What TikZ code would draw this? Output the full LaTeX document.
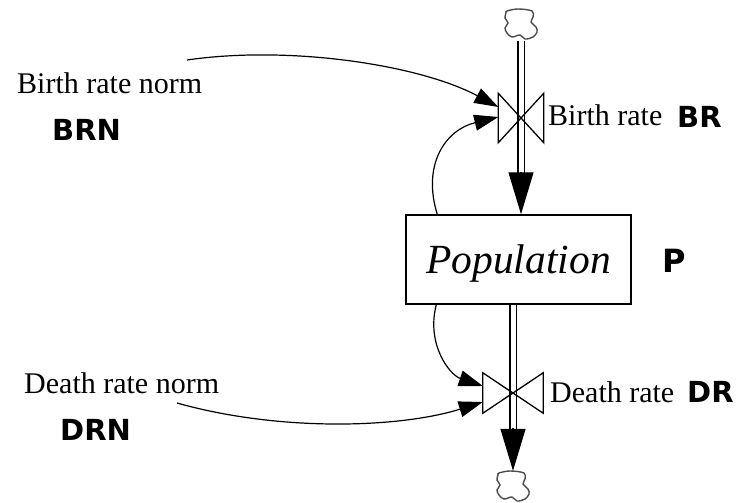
\documentclass[tikz,border=0pt]{standalone}
\usepackage{fontspec}
\setmainfont{Liberation Serif}
\newfontfamily\blk{DejaVu Sans}
\usetikzlibrary{arrows.meta,calc}
\tikzset{
  lbl/.style={inner sep=0pt, font=\fontsize{30}{36}\selectfont},
  code/.style={inner sep=0pt, font=\fontsize{29}{35}\selectfont\blk\bfseries},
  bigcode/.style={inner sep=0pt, font=\fontsize{32}{38}\selectfont\blk\bfseries},
  conn/.style={line width=1.2pt, -{Triangle[length=24pt,width=16pt]}},
  pipe/.style={double distance=5pt, line width=1.2pt},
  bighead/.style={line width=1.2pt, -{Triangle[length=42pt,width=25pt]}},
  valveline/.style={line width=1.3pt, line join=miter},
  source/.style={inner sep=0pt, minimum width=33pt, minimum height=32pt},
  cloudline/.style={draw=black!70, line width=1.4pt},
  stock/.style={draw, line width=1.5pt, minimum width=225pt, minimum height=89pt, inner sep=0pt,
    text depth=0pt, font=\fontsize{41.5}{50}\selectfont\itshape}
}
\newcommand{\cloudoutline}[1]{%
  \draw[cloudline, shift={(#1.center)}] plot[smooth cycle, tension=0.6] coordinates {
    (-14,-14) (-3,-16) (11,-14) (12,-8) (10,-3) (15,2) (16,7) (12,12)
    (4,14) (-1,10) (-9,12) (-14,8) (-16,3) (-13,-2) (-16,-7) (-15,-12)};}
\begin{document}
\begin{tikzpicture}[x=1pt,y=-1pt]
\useasboundingbox (0,0) rectangle (736,503);

% stock
\node[stock] (pop) at (518.5,259.5) {Population};
\node[bigcode, anchor=base west] (pLbl) at (662,272) {P};

% clouds
\node[source] (ct) at (521,25) {};
\node[source] (cb) at (513,487) {};
\cloudoutline{ct}
\cloudoutline{cb}

% valves (invisible boxes)
\node[inner sep=0pt, minimum width=45pt, minimum height=49pt] (vt) at (521,118) {};
\node[inner sep=0pt, minimum width=60pt, minimum height=40pt] (vb) at (513,393) {};

% pipes
\draw[pipe] (ct.south) -- ($(ct.south |- pop.north)+(0,-41)$);
\draw[bighead] ($(ct.south |- pop.north)+(0,-42)$) -- (ct.south |- pop.north);
\draw[pipe] (pop.south -| cb.north) -- ($(cb.north)+(0,-42)$);
\draw[bighead] ($(cb.north)+(0,-43)$) -- (cb.north);

% valve bowties
\draw[valveline] (vt.north west) -- (vt.south east) -- (vt.north east) -- (vt.south west) -- cycle;
\draw[valveline] (vb.north west) -- (vb.south east) -- (vb.north east) -- (vb.south west) -- cycle;

% labels
\node[lbl, anchor=base west] (brnT) at (17,93) {Birth rate norm};
\node[code, anchor=base west] (brnC) at (52,140) {BRN};
\node[lbl, anchor=base west] (drnT) at (24,393) {Death rate norm};
\node[code, anchor=base west] (drnC) at (60,440) {DRN};
\node[lbl, anchor=base west] (brT) at (548,125) {Birth rate};
\node[code, anchor=base west] (brC) at (677,127) {BR};
\node[lbl, anchor=base west] (drT) at (550,402) {Death rate};
\node[code, anchor=base west] (drC) at (687,402) {DR};

% connectors
\coordinate (brnS) at (187,60);
\coordinate (drnS) at (177,403);
\draw[conn] (brnS) .. controls (290,45) and (420,65) .. ([yshift=11pt]vt.west);
\draw[conn] ($(pop.north west)+(32,0)$) .. controls (422,165) and (445,130) .. ([yshift=1pt]vt.west);
\draw[conn] ($(pop.south west)+(31,0)$) .. controls (426,345) and (450,375) .. ([yshift=7pt]vb.west);
\draw[conn] (drnS) .. controls (280,432) and (400,428) .. ([yshift=-9pt]vb.west);
\end{tikzpicture}
\end{document}
